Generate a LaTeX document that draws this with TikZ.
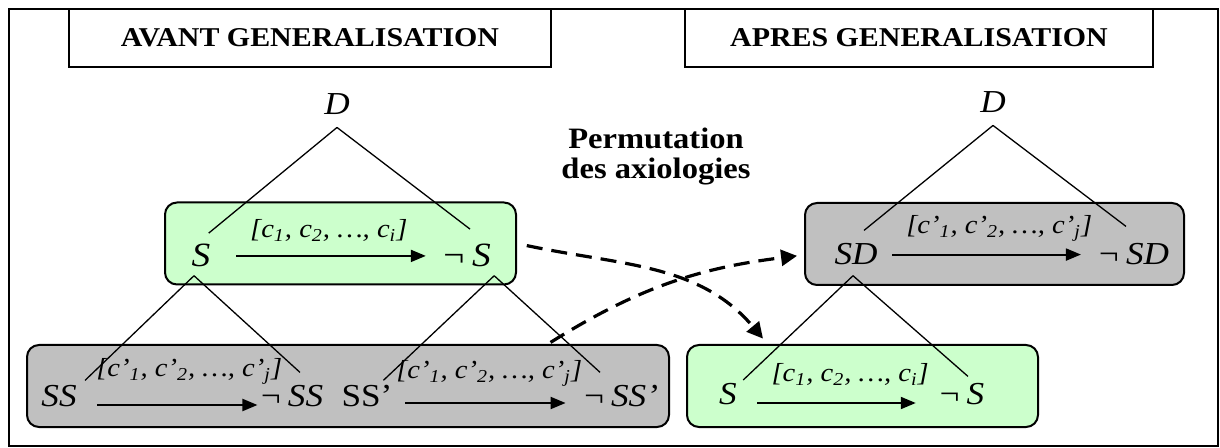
\documentclass[tikz,border=0pt]{standalone}
\usepackage{fontspec}
\setmainfont[FakeStretch=1.1]{Liberation Serif}
\usepackage{tikz}
\usetikzlibrary{positioning, arrows.meta}

\definecolor{boxgreen}{HTML}{CCFFCC}
\definecolor{boxgray}{HTML}{C0C0C0}

\tikzstyle{titlebox} = [rectangle, draw=black, line width=1pt, 
minimum width=241pt, minimum height=29pt, inner sep=0pt, 
font=\fontsize{13.6}{16}\selectfont\bfseries]
\tikzstyle{greenbox} = [rectangle, rounded corners=6pt, draw=black, 
line width=1pt, fill=boxgreen, minimum width=175.5pt, 
minimum height=41pt, inner sep=0pt]
\tikzstyle{graybox} = [greenbox, fill=boxgray]
\tikzstyle{lbl} = [inner sep=0pt, anchor=base, 
font=\fontsize{16}{18}\selectfont\itshape]
\tikzstyle{biglbl} = [lbl, font=\fontsize{17}{19}\selectfont\itshape]
\tikzstyle{cond} = [inner sep=0pt, font=\fontsize{13}{15}\selectfont\itshape]
\tikzstyle{branch} = [line width=0.65pt]
\tikzstyle{arrow} = [line width=1pt, -{Triangle[length=7.5pt, width=6pt]}]
\tikzstyle{permarrow} = [line width=1.6pt, dash pattern=on 8pt off 4.5pt, 
-{Triangle[length=8pt, width=8pt]}]

\begin{document}
\begin{tikzpicture}[x=0.5pt, y=-0.5pt]
\useasboundingbox (0,0) rectangle (1220,448);

\draw [line width=1pt] (9,9) rectangle (1218,446);

\node (avant) [titlebox] at (310,38) {AVANT GENERALISATION};
\node (apres) [titlebox, minimum width=234pt] at (919,38) 
{APRES GENERALISATION};

%-------boxes-------------------
\node (greenTop) [greenbox] at (340.5,243.5) {};
\node (grayBot) [graybox, minimum width=321pt] at (348,386) {};
\node (grayTop) [graybox, minimum width=189.5pt] at (994.5,244) {};
\node (greenBot) [greenbox] at (862.5,386) {};

%-------before generalisation----
\node (D1) [lbl] at (337,115) {D};
\node (S1) [biglbl] at (201,267) {S};
\node (nS1) [biglbl] at (466,267) {¬\,S};
\node (SS) [lbl] at (59,407) {SS};
\node (nSS) [lbl] at (291,407) {¬\,SS};
\node (SSp) [lbl, font=\fontsize{16}{18}\selectfont\upshape] at (367,407) 
{SS’};
\node (nSSp) [lbl] at (620,407) {¬\,SS’};

%-------after generalisation-----
\node (D2) [lbl] at (993,113) {D};
\node (SD) [lbl] at (856,265) {SD};
\node (nSD) [lbl] at (1133,265) {¬\,SD};
\node (S2) [lbl] at (728,405) {S};
\node (nS2) [lbl] at (961,405) {¬\,S};

\node (perm) [font=\fontsize{14.8}{15}\selectfont\bfseries, align=center] 
at (656,157) {Permutation\\des axiologies};

%-------branches----------------
\draw [branch] ([yshift=-6pt]D1.south) -- ([shift={(-1pt,5.5pt)}]S1.north east);
\draw [branch] ([yshift=-6pt]D1.south) -- ([shift={(2pt,7.5pt)}]nS1.north);
\draw [branch] ([shift={(-3.5pt,-4pt)}]S1.south) -- ([shift={(4pt,2.5pt)}]SS.north east);
\draw [branch] ([shift={(-3.5pt,-4pt)}]S1.south) -- ([shift={(4.5pt,6.5pt)}]nSS.north);
\draw [branch] ([shift={(1.5pt,-4pt)}]nS1.south east) -- ([shift={(-4.7pt,2.5pt)}]SSp.north east);
\draw [branch] ([shift={(1.5pt,-4pt)}]nS1.south east) -- ([shift={(-10pt,6.5pt)}]nSSp.north);

\draw [branch] ([yshift=-6pt]D2.south) -- ([shift={(4pt,6.5pt)}]SD.north);
\draw [branch] ([yshift=-6pt]D2.south) -- ([shift={(-3.5pt,8.5pt)}]nSD.north);
\draw [branch] ([shift={(-1.5pt,-5pt)}]SD.south) -- ([shift={(3pt,1.7pt)}]S2.north east);
\draw [branch] ([shift={(-1.5pt,-5pt)}]SD.south) -- ([shift={(3.5pt,3.5pt)}]nS2.north);

%-------arrows inside boxes------
\draw [arrow, shorten <=12.8pt, shorten >=7.5pt] (S1) -- 
node[cond, above=6.5pt, xshift=1.5pt] {[c\textsubscript{1}, c\textsubscript{2}, …, c\textsubscript{i}]} (nS1);
\draw [arrow, shorten <=10.2pt, shorten >=0.5pt] ([yshift=1pt]SS.base east) -- 
node[cond, above=10pt, xshift=10.75pt] {[c’\textsubscript{1}, c’\textsubscript{2}, …, c’\textsubscript{j}]} ([yshift=1pt]nSS.base west);
\draw [arrow, shorten <=6.3pt, shorten >=8pt] ([yshift=2pt]SSp.base east) -- 
node[cond, above=8pt, xshift=1pt] {[c’\textsubscript{1}, c’\textsubscript{2}, …, c’\textsubscript{j}]} ([yshift=2pt]nSSp.base west);
\draw [arrow, shorten <=7.25pt, shorten >=7.8pt] (SD) -- 
node[cond, above=6pt, xshift=6pt] {[c’\textsubscript{1}, c’\textsubscript{2}, …, c’\textsubscript{j}]} (nSD);
\draw [arrow, shorten <=10pt, shorten >=10.75pt] ([yshift=1pt]S2.base east) -- 
node[cond, above=8pt, xshift=6.5pt] {[c\textsubscript{1}, c\textsubscript{2}, …, c\textsubscript{i}]} ([yshift=1pt]nS2.base west);

%-------permutation arrows-------
\draw [permarrow, shorten <=5pt, shorten >=3.5pt] (greenTop.east) 
to[out=-12, in=130] ([xshift=-47.5pt]greenBot.north);
\draw [permarrow, shorten <=1.5pt, shorten >=3.5pt] ([xshift=100pt]grayBot.north) 
to[out=32, in=187] ([yshift=-5.5pt]grayTop.west);

\end{tikzpicture}
\end{document}
